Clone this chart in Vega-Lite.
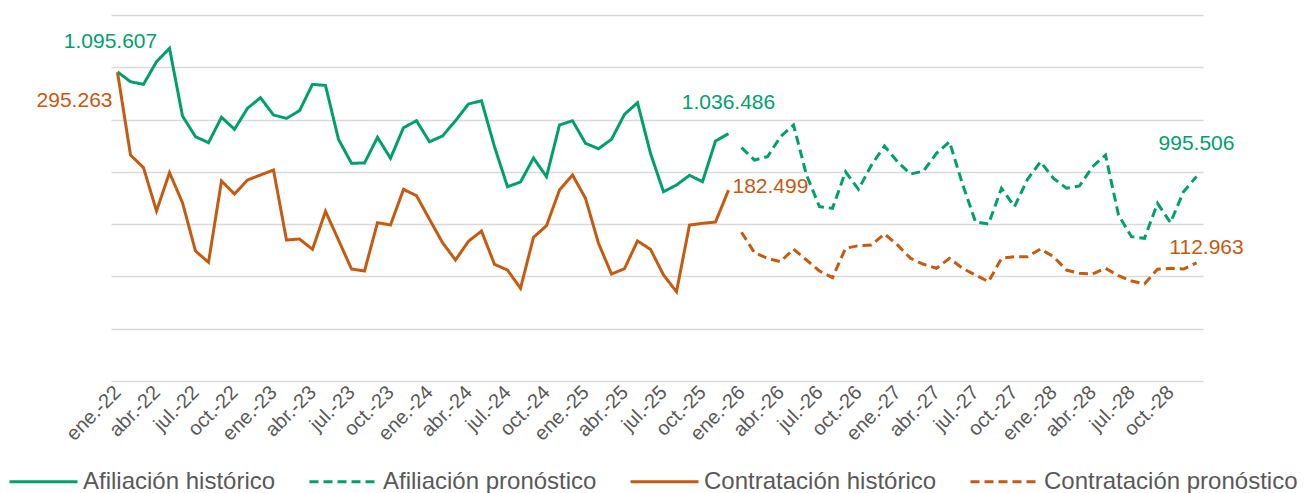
{
  "$schema": "https://vega.github.io/schema/vega-lite/v6.json",
  "autosize": "none",
  "width": 1092,
  "height": 366,
  "padding": {"left": 111, "top": 15, "right": 101, "bottom": 112},
  "background": "white",
  "config": {
    "view": {"stroke": null},
    "font": "Liberation Sans",
    "locale": {"number": {"decimal": ",", "thousands": ".", "grouping": [3], "currency": ["", " €"]}},
    "legend": {
      "orient": "none",
      "legendX": -103,
      "legendY": 431,
      "padding": 0,
      "direction": "horizontal",
      "title": null,
      "symbolType": "stroke",
      "symbolSize": 4624,
      "symbolStrokeWidth": 3,
      "labelFont": "Liberation Sans",
      "labelFontSize": 24,
      "labelColor": "#595959",
      "labelOffset": 4,
      "columnPadding": 27,
      "labelLimit": 400
    }
  },
  "datasets": {
    "afiliacion": [
      {"fecha": "2022-01-01", "valor": 1095607, "serie": "Afiliación histórico"},
      {"fecha": "2022-02-01", "valor": 1086200, "serie": "Afiliación histórico"},
      {"fecha": "2022-03-01", "valor": 1083700, "serie": "Afiliación histórico"},
      {"fecha": "2022-04-01", "valor": 1105300, "serie": "Afiliación histórico"},
      {"fecha": "2022-05-01", "valor": 1118200, "serie": "Afiliación histórico"},
      {"fecha": "2022-06-01", "valor": 1053400, "serie": "Afiliación histórico"},
      {"fecha": "2022-07-01", "valor": 1033600, "serie": "Afiliación histórico"},
      {"fecha": "2022-08-01", "valor": 1027900, "serie": "Afiliación histórico"},
      {"fecha": "2022-09-01", "valor": 1052200, "serie": "Afiliación histórico"},
      {"fecha": "2022-10-01", "valor": 1040700, "serie": "Afiliación histórico"},
      {"fecha": "2022-11-01", "valor": 1060800, "serie": "Afiliación histórico"},
      {"fecha": "2022-12-01", "valor": 1070900, "serie": "Afiliación histórico"},
      {"fecha": "2023-01-01", "valor": 1054400, "serie": "Afiliación histórico"},
      {"fecha": "2023-02-01", "valor": 1051200, "serie": "Afiliación histórico"},
      {"fecha": "2023-03-01", "valor": 1058500, "serie": "Afiliación histórico"},
      {"fecha": "2023-04-01", "valor": 1083700, "serie": "Afiliación histórico"},
      {"fecha": "2023-05-01", "valor": 1082600, "serie": "Afiliación histórico"},
      {"fecha": "2023-06-01", "valor": 1031100, "serie": "Afiliación histórico"},
      {"fecha": "2023-07-01", "valor": 1008200, "serie": "Afiliación histórico"},
      {"fecha": "2023-08-01", "valor": 1008500, "serie": "Afiliación histórico"},
      {"fecha": "2023-09-01", "valor": 1033000, "serie": "Afiliación histórico"},
      {"fecha": "2023-10-01", "valor": 1013000, "serie": "Afiliación histórico"},
      {"fecha": "2023-11-01", "valor": 1042200, "serie": "Afiliación histórico"},
      {"fecha": "2023-12-01", "valor": 1048900, "serie": "Afiliación histórico"},
      {"fecha": "2024-01-01", "valor": 1028800, "serie": "Afiliación histórico"},
      {"fecha": "2024-02-01", "valor": 1034300, "serie": "Afiliación histórico"},
      {"fecha": "2024-03-01", "valor": 1048900, "serie": "Afiliación histórico"},
      {"fecha": "2024-04-01", "valor": 1064900, "serie": "Afiliación histórico"},
      {"fecha": "2024-05-01", "valor": 1068000, "serie": "Afiliación histórico"},
      {"fecha": "2024-06-01", "valor": 1024100, "serie": "Afiliación histórico"},
      {"fecha": "2024-07-01", "valor": 985800, "serie": "Afiliación histórico"},
      {"fecha": "2024-08-01", "valor": 990300, "serie": "Afiliación histórico"},
      {"fecha": "2024-09-01", "valor": 1013200, "serie": "Afiliación histórico"},
      {"fecha": "2024-10-01", "valor": 995400, "serie": "Afiliación histórico"},
      {"fecha": "2024-11-01", "valor": 1044800, "serie": "Afiliación histórico"},
      {"fecha": "2024-12-01", "valor": 1048900, "serie": "Afiliación histórico"},
      {"fecha": "2025-01-01", "valor": 1027300, "serie": "Afiliación histórico"},
      {"fecha": "2025-02-01", "valor": 1022100, "serie": "Afiliación histórico"},
      {"fecha": "2025-03-01", "valor": 1031100, "serie": "Afiliación histórico"},
      {"fecha": "2025-04-01", "valor": 1055000, "serie": "Afiliación histórico"},
      {"fecha": "2025-05-01", "valor": 1066100, "serie": "Afiliación histórico"},
      {"fecha": "2025-06-01", "valor": 1017700, "serie": "Afiliación histórico"},
      {"fecha": "2025-07-01", "valor": 981000, "serie": "Afiliación histórico"},
      {"fecha": "2025-08-01", "valor": 987400, "serie": "Afiliación histórico"},
      {"fecha": "2025-09-01", "valor": 996700, "serie": "Afiliación histórico"},
      {"fecha": "2025-10-01", "valor": 990600, "serie": "Afiliación histórico"},
      {"fecha": "2025-11-01", "valor": 1029500, "serie": "Afiliación histórico"},
      {"fecha": "2025-12-01", "valor": 1036486, "serie": "Afiliación histórico"},
      {"fecha": "2026-01-01", "valor": 1023100, "serie": "Afiliación pronóstico"},
      {"fecha": "2026-02-01", "valor": 1011300, "serie": "Afiliación pronóstico"},
      {"fecha": "2026-03-01", "valor": 1014500, "serie": "Afiliación pronóstico"},
      {"fecha": "2026-04-01", "valor": 1033600, "serie": "Afiliación pronóstico"},
      {"fecha": "2026-05-01", "valor": 1044800, "serie": "Afiliación pronóstico"},
      {"fecha": "2026-06-01", "valor": 997000, "serie": "Afiliación pronóstico"},
      {"fecha": "2026-07-01", "valor": 966700, "serie": "Afiliación pronóstico"},
      {"fecha": "2026-08-01", "valor": 965100, "serie": "Afiliación pronóstico"},
      {"fecha": "2026-09-01", "valor": 1000100, "serie": "Afiliación pronóstico"},
      {"fecha": "2026-10-01", "valor": 983300, "serie": "Afiliación pronóstico"},
      {"fecha": "2026-11-01", "valor": 1006600, "serie": "Afiliación pronóstico"},
      {"fecha": "2026-12-01", "valor": 1024700, "serie": "Afiliación pronóstico"},
      {"fecha": "2027-01-01", "valor": 1009700, "serie": "Afiliación pronóstico"},
      {"fecha": "2027-02-01", "valor": 997900, "serie": "Afiliación pronóstico"},
      {"fecha": "2027-03-01", "valor": 1000800, "serie": "Afiliación pronóstico"},
      {"fecha": "2027-04-01", "valor": 1017700, "serie": "Afiliación pronóstico"},
      {"fecha": "2027-05-01", "valor": 1028800, "serie": "Afiliación pronóstico"},
      {"fecha": "2027-06-01", "valor": 988400, "serie": "Afiliación pronóstico"},
      {"fecha": "2027-07-01", "valor": 952300, "serie": "Afiliación pronóstico"},
      {"fecha": "2027-08-01", "valor": 950100, "serie": "Afiliación pronóstico"},
      {"fecha": "2027-09-01", "valor": 984300, "serie": "Afiliación pronóstico"},
      {"fecha": "2027-10-01", "valor": 966700, "serie": "Afiliación pronóstico"},
      {"fecha": "2027-11-01", "valor": 992900, "serie": "Afiliación pronóstico"},
      {"fecha": "2027-12-01", "valor": 1009700, "serie": "Afiliación pronóstico"},
      {"fecha": "2028-01-01", "valor": 993800, "serie": "Afiliación pronóstico"},
      {"fecha": "2028-02-01", "valor": 984300, "serie": "Afiliación pronóstico"},
      {"fecha": "2028-03-01", "valor": 986500, "serie": "Afiliación pronóstico"},
      {"fecha": "2028-04-01", "valor": 1004900, "serie": "Afiliación pronóstico"},
      {"fecha": "2028-05-01", "valor": 1016100, "serie": "Afiliación pronóstico"},
      {"fecha": "2028-06-01", "valor": 958700, "serie": "Afiliación pronóstico"},
      {"fecha": "2028-07-01", "valor": 938000, "serie": "Afiliación pronóstico"},
      {"fecha": "2028-08-01", "valor": 936500, "serie": "Afiliación pronóstico"},
      {"fecha": "2028-09-01", "valor": 969900, "serie": "Afiliación pronóstico"},
      {"fecha": "2028-10-01", "valor": 951400, "serie": "Afiliación pronóstico"},
      {"fecha": "2028-11-01", "valor": 981000, "serie": "Afiliación pronóstico"},
      {"fecha": "2028-12-01", "valor": 995506, "serie": "Afiliación pronóstico"}
    ],
    "contratacion": [
      {"fecha": "2022-01-01", "valor": 295263, "serie": "Contratación histórico"},
      {"fecha": "2022-02-01", "valor": 216100, "serie": "Contratación histórico"},
      {"fecha": "2022-03-01", "valor": 204000, "serie": "Contratación histórico"},
      {"fecha": "2022-04-01", "valor": 162600, "serie": "Contratación histórico"},
      {"fecha": "2022-05-01", "valor": 199200, "serie": "Contratación histórico"},
      {"fecha": "2022-06-01", "valor": 170500, "serie": "Contratación histórico"},
      {"fecha": "2022-07-01", "valor": 124300, "serie": "Contratación histórico"},
      {"fecha": "2022-08-01", "valor": 113500, "serie": "Contratación histórico"},
      {"fecha": "2022-09-01", "valor": 191300, "serie": "Contratación histórico"},
      {"fecha": "2022-10-01", "valor": 178800, "serie": "Contratación histórico"},
      {"fecha": "2022-11-01", "valor": 192200, "serie": "Contratación histórico"},
      {"fecha": "2022-12-01", "valor": 197000, "serie": "Contratación histórico"},
      {"fecha": "2023-01-01", "valor": 201800, "serie": "Contratación histórico"},
      {"fecha": "2023-02-01", "valor": 134800, "serie": "Contratación histórico"},
      {"fecha": "2023-03-01", "valor": 135800, "serie": "Contratación histórico"},
      {"fecha": "2023-04-01", "valor": 125900, "serie": "Contratación histórico"},
      {"fecha": "2023-05-01", "valor": 162300, "serie": "Contratación histórico"},
      {"fecha": "2023-06-01", "valor": 134800, "serie": "Contratación histórico"},
      {"fecha": "2023-07-01", "valor": 107100, "serie": "Contratación histórico"},
      {"fecha": "2023-08-01", "valor": 105200, "serie": "Contratación histórico"},
      {"fecha": "2023-09-01", "valor": 151400, "serie": "Contratación histórico"},
      {"fecha": "2023-10-01", "valor": 149200, "serie": "Contratación histórico"},
      {"fecha": "2023-11-01", "valor": 183300, "serie": "Contratación histórico"},
      {"fecha": "2023-12-01", "valor": 177200, "serie": "Contratación histórico"},
      {"fecha": "2024-01-01", "valor": 154600, "serie": "Contratación histórico"},
      {"fecha": "2024-02-01", "valor": 132300, "serie": "Contratación histórico"},
      {"fecha": "2024-03-01", "valor": 115700, "serie": "Contratación histórico"},
      {"fecha": "2024-04-01", "valor": 133600, "serie": "Contratación histórico"},
      {"fecha": "2024-05-01", "valor": 143400, "serie": "Contratación histórico"},
      {"fecha": "2024-06-01", "valor": 111600, "serie": "Contratación histórico"},
      {"fecha": "2024-07-01", "valor": 106100, "serie": "Contratación histórico"},
      {"fecha": "2024-08-01", "valor": 88600, "serie": "Contratación histórico"},
      {"fecha": "2024-09-01", "valor": 137400, "serie": "Contratación histórico"},
      {"fecha": "2024-10-01", "valor": 148500, "serie": "Contratación histórico"},
      {"fecha": "2024-11-01", "valor": 182600, "serie": "Contratación histórico"},
      {"fecha": "2024-12-01", "valor": 197000, "serie": "Contratación histórico"},
      {"fecha": "2025-01-01", "valor": 174700, "serie": "Contratación histórico"},
      {"fecha": "2025-02-01", "valor": 131700, "serie": "Contratación histórico"},
      {"fecha": "2025-03-01", "valor": 102300, "serie": "Contratación histórico"},
      {"fecha": "2025-04-01", "valor": 107400, "serie": "Contratación histórico"},
      {"fecha": "2025-05-01", "valor": 133900, "serie": "Contratación histórico"},
      {"fecha": "2025-06-01", "valor": 125900, "serie": "Contratación histórico"},
      {"fecha": "2025-07-01", "valor": 101400, "serie": "Contratación histórico"},
      {"fecha": "2025-08-01", "valor": 85400, "serie": "Contratación histórico"},
      {"fecha": "2025-09-01", "valor": 149200, "serie": "Contratación histórico"},
      {"fecha": "2025-10-01", "valor": 150800, "serie": "Contratación histórico"},
      {"fecha": "2025-11-01", "valor": 152000, "serie": "Contratación histórico"},
      {"fecha": "2025-12-01", "valor": 182499, "serie": "Contratación histórico"},
      {"fecha": "2026-01-01", "valor": 142200, "serie": "Contratación pronóstico"},
      {"fecha": "2026-02-01", "valor": 122700, "serie": "Contratación pronóstico"},
      {"fecha": "2026-03-01", "valor": 117300, "serie": "Contratación pronóstico"},
      {"fecha": "2026-04-01", "valor": 114100, "serie": "Contratación pronóstico"},
      {"fecha": "2026-05-01", "valor": 126200, "serie": "Contratación pronóstico"},
      {"fecha": "2026-06-01", "valor": 115700, "serie": "Contratación pronóstico"},
      {"fecha": "2026-07-01", "valor": 105200, "serie": "Contratación pronóstico"},
      {"fecha": "2026-08-01", "valor": 98800, "serie": "Contratación pronóstico"},
      {"fecha": "2026-09-01", "valor": 126900, "serie": "Contratación pronóstico"},
      {"fecha": "2026-10-01", "valor": 129400, "serie": "Contratación pronóstico"},
      {"fecha": "2026-11-01", "valor": 130100, "serie": "Contratación pronóstico"},
      {"fecha": "2026-12-01", "valor": 140600, "serie": "Contratación pronóstico"},
      {"fecha": "2027-01-01", "valor": 130100, "serie": "Contratación pronóstico"},
      {"fecha": "2027-02-01", "valor": 117300, "serie": "Contratación pronóstico"},
      {"fecha": "2027-03-01", "valor": 111600, "serie": "Contratación pronóstico"},
      {"fecha": "2027-04-01", "valor": 107800, "serie": "Contratación pronóstico"},
      {"fecha": "2027-05-01", "valor": 117300, "serie": "Contratación pronóstico"},
      {"fecha": "2027-06-01", "valor": 107800, "serie": "Contratación pronóstico"},
      {"fecha": "2027-07-01", "valor": 101400, "serie": "Contratación pronóstico"},
      {"fecha": "2027-08-01", "valor": 95000, "serie": "Contratación pronóstico"},
      {"fecha": "2027-09-01", "valor": 117300, "serie": "Contratación pronóstico"},
      {"fecha": "2027-10-01", "valor": 118900, "serie": "Contratación pronóstico"},
      {"fecha": "2027-11-01", "valor": 118900, "serie": "Contratación pronóstico"},
      {"fecha": "2027-12-01", "valor": 126200, "serie": "Contratación pronóstico"},
      {"fecha": "2028-01-01", "valor": 118900, "serie": "Contratación pronóstico"},
      {"fecha": "2028-02-01", "valor": 106100, "serie": "Contratación pronóstico"},
      {"fecha": "2028-03-01", "valor": 103000, "serie": "Contratación pronóstico"},
      {"fecha": "2028-04-01", "valor": 102300, "serie": "Contratación pronóstico"},
      {"fecha": "2028-05-01", "valor": 107800, "serie": "Contratación pronóstico"},
      {"fecha": "2028-06-01", "valor": 100700, "serie": "Contratación pronóstico"},
      {"fecha": "2028-07-01", "valor": 95600, "serie": "Contratación pronóstico"},
      {"fecha": "2028-08-01", "valor": 92800, "serie": "Contratación pronóstico"},
      {"fecha": "2028-09-01", "valor": 106800, "serie": "Contratación pronóstico"},
      {"fecha": "2028-10-01", "valor": 107800, "serie": "Contratación pronóstico"},
      {"fecha": "2028-11-01", "valor": 107100, "serie": "Contratación pronóstico"},
      {"fecha": "2028-12-01", "valor": 112963, "serie": "Contratación pronóstico"}
    ]
  },
  "encoding": {
    "x": {
      "field": "fecha",
      "timeUnit": "utcyearmonth",
      "type": "ordinal",
      "scale": {"type": "point", "padding": 0.5},
      "axis": {
        "title": null,
        "domain": false,
        "ticks": false,
        "grid": false,
        "labelAngle": -45,
        "labelAlign": "right",
        "labelBaseline": "middle",
        "labelPadding": 8,
        "labelOverlap": false,
        "labelFont": "Liberation Sans",
        "labelFontSize": 20,
        "labelColor": "#595959",
        "labelExpr": "utcmonth(datum.value) % 3 == 0 ? ['ene.','feb.','mar.','abr.','may.','jun.','jul.','ago.','sept.','oct.','nov.','dic.'][utcmonth(datum.value)] + '-' + utcFormat(datum.value, '%y') : ''"
      }
    }
  },
  "layer": [
    {
      "data": {"name": "afiliacion"},
      "encoding": {
        "y": {
          "field": "valor",
          "type": "quantitative",
          "scale": {"domain": [800000, 1150000], "zero": false, "nice": false},
          "axis": {
            "title": null,
            "labels": false,
            "ticks": false,
            "domain": false,
            "grid": true,
            "values": [800000, 850000, 900000, 950000, 1000000, 1050000, 1100000, 1150000],
            "gridColor": "#d9d9d9",
            "gridWidth": 1.5
          }
        }
      },
      "layer": [
        {
          "mark": {"type": "line", "strokeWidth": 3},
          "encoding": {
            "color": {
              "field": "serie",
              "type": "nominal",
              "scale": {
                "domain": ["Afiliación histórico", "Afiliación pronóstico", "Contratación histórico", "Contratación pronóstico"],
                "range": ["#00a06e", "#00a06e", "#c55a11", "#c55a11"]
              }
            },
            "strokeDash": {
              "field": "serie",
              "type": "nominal",
              "scale": {
                "domain": ["Afiliación histórico", "Afiliación pronóstico", "Contratación histórico", "Contratación pronóstico"],
                "range": [[1, 0], [9, 5], [1, 0], [9, 5]]
              }
            }
          }
        },
        {
          "transform": [{"filter": "utcyear(datum.fecha) == 2022 && utcmonth(datum.fecha) == 0"}],
          "mark": {"type": "text", "fontSize": 21, "color": "#00a06e", "align": "center", "dx": -7, "dy": -30},
          "encoding": {"text": {"field": "valor", "type": "quantitative", "format": ",.0f"}}
        },
        {
          "transform": [{"filter": "utcyear(datum.fecha) == 2025 && utcmonth(datum.fecha) == 11"}],
          "mark": {"type": "text", "fontSize": 21, "color": "#00a06e", "align": "center", "dx": 0, "dy": -31},
          "encoding": {"text": {"field": "valor", "type": "quantitative", "format": ",.0f"}}
        },
        {
          "transform": [{"filter": "utcyear(datum.fecha) == 2028 && utcmonth(datum.fecha) == 11"}],
          "mark": {"type": "text", "fontSize": 21, "color": "#00a06e", "align": "center", "dx": 0, "dy": -33},
          "encoding": {"text": {"field": "valor", "type": "quantitative", "format": ",.0f"}}
        }
      ]
    },
    {
      "data": {"name": "contratacion"},
      "encoding": {
        "y": {
          "field": "valor",
          "type": "quantitative",
          "scale": {"domain": [0, 350000], "nice": false},
          "axis": null
        }
      },
      "layer": [
        {
          "mark": {"type": "line", "strokeWidth": 3},
          "encoding": {
            "color": {"field": "serie", "type": "nominal"},
            "strokeDash": {"field": "serie", "type": "nominal"}
          }
        },
        {
          "transform": [{"filter": "utcyear(datum.fecha) == 2022 && utcmonth(datum.fecha) == 0"}],
          "mark": {"type": "text", "fontSize": 21, "color": "#c55a11", "align": "right", "dx": -5, "dy": 29},
          "encoding": {"text": {"field": "valor", "type": "quantitative", "format": ",.0f"}}
        },
        {
          "transform": [{"filter": "utcyear(datum.fecha) == 2025 && utcmonth(datum.fecha) == 11"}],
          "mark": {"type": "text", "fontSize": 21, "color": "#c55a11", "align": "left", "dx": 4, "dy": -3},
          "encoding": {"text": {"field": "valor", "type": "quantitative", "format": ",.0f"}}
        },
        {
          "transform": [{"filter": "utcyear(datum.fecha) == 2028 && utcmonth(datum.fecha) == 11"}],
          "mark": {"type": "text", "fontSize": 21, "color": "#c55a11", "align": "center", "dx": 10, "dy": -15},
          "encoding": {"text": {"field": "valor", "type": "quantitative", "format": ",.0f"}}
        }
      ]
    }
  ],
  "resolve": {"scale": {"y": "independent"}}
}
